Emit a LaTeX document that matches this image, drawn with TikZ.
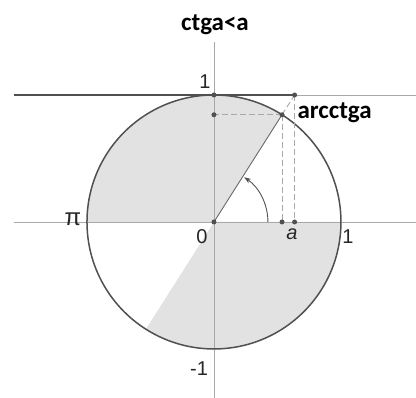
\documentclass[tikz,border=0pt]{standalone}
\usepackage{fontspec}
\setmainfont{Liberation Sans}
\newfontfamily\calibrifont{Carlito}
\usetikzlibrary{arrows.meta}
\definecolor{rim}{HTML}{505050}
\definecolor{axisgray}{HTML}{A8A8A8}
\definecolor{fillgray}{HTML}{E2E2E2}

\begin{document}
\begin{tikzpicture}[x=127pt, y=127pt,
  ax/.style={draw=axisgray, line width=0.7pt},
  dsh/.style={draw=axisgray, dash pattern=on 6pt off 3pt, line width=0.9pt},
  pt/.style={circle, fill=rim, inner sep=0pt, minimum size=5pt},
  num/.style={font=\fontsize{20}{22}\selectfont, text=black!85},
  lbl/.style={font=\calibrifont\bfseries\fontsize{25}{27}\selectfont}]
\useasboundingbox (-1.685,-1.386) rectangle (1.591,1.748);
\coordinate (O) at (0,0);
\coordinate (P) at (57.6:1);
\coordinate (T) at (0.635,1);
\coordinate (A) at (0.635,0);
\coordinate (Pa) at (P |- O);
\coordinate (Py) at (O |- P);
\coordinate (Y1) at (0,1);
% shaded arcs of the solution
\fill[fillgray] (O) -- (57.6:1) arc[start angle=57.6, end angle=180, radius=1] -- cycle;
\fill[fillgray] (O) -- (237.6:1) arc[start angle=237.6, end angle=360, radius=1] -- cycle;
% axes
\draw[ax] (-1.575,0) -- (1.591,0);
\draw[ax] (0,1.417) -- (0,-1.386);
\draw[ax] (T) -- (1.591,1);
% circle and line of cotangents
\draw[rim, line width=1.5pt] (O) circle[radius=1];
\draw[rim, line width=1.5pt] (-1.575,1) -- (T);
\draw[rim!85, line width=0.9pt] (O) -- (P);
\draw[dsh] (P) -- (T);
\draw[dsh] (P) -- (Pa);
\draw[dsh] (P) -- (Py);
\draw[dsh] (T) -- (A);
\draw[rim, line width=0.9pt, -{Stealth[length=7pt, width=5pt]}] (0.425,0) arc[start angle=0, end angle=56, radius=0.425];
\foreach \p in {O,P,T,A,Pa,Py,Y1} \node[pt] at (\p) {};
% labels
\node[lbl] (title) at (0.008,1.551) {ctga<a};
\node[lbl, anchor=west] (arc) at (0.63,0.858) {arcctga};
\node[num] (one) at (-0.071,1.102) {1};
\node[num, font=\fontsize{24}{26}\selectfont] (pi) at (-1.110,0.02) {π};
\node[num] (zero) at (-0.095,-0.118) {0};
\node[num] (aa) at (0.614,-0.10) {\itshape a};
\node[num] (onex) at (1.055,-0.118) {1};
\node[num] (mone) at (-0.118,-1.157) {-1};
\end{tikzpicture}
\end{document}
